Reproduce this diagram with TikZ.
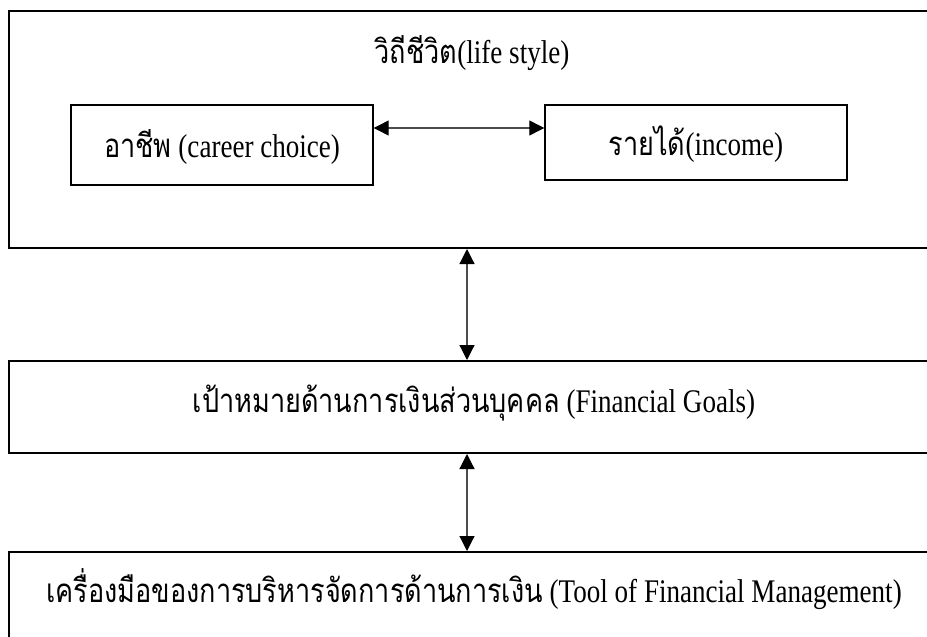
\documentclass[tikz,border=0pt]{standalone}
\usepackage{graphicx}
\usepackage{fontspec}
\setmainfont{Liberation Serif}
\newfontfamily\thaifont[Script=Thai]{Loma}
\usetikzlibrary{arrows.meta}
\newcommand{\thx}[1]{{\thaifont #1}}
\newcommand{\lab}[1]{\scalebox{0.82}[1]{#1}}
\tikzset{
  bigbox/.style={draw, line width=2pt, rectangle, inner sep=0pt},
  smallbox/.style={draw, line width=1.4pt, rectangle, inner sep=0pt},
  lbl/.style={anchor=base, inner sep=0pt, font=\fontsize{33}{40}\selectfont},
  link/.style={line width=1.2pt, draw=black!70,
    {Triangle[length=15pt,width=15pt,color=black]}-{Triangle[length=15pt,width=15pt,color=black]}}
}
\begin{document}
\begin{tikzpicture}[x=1pt,y=-1pt]
\useasboundingbox (0,0) rectangle (927,637);
\clip (0,0) rectangle (927,637);
\fill[white] (0,0) rectangle (927,637);
% boxes
\node[bigbox, minimum width=930pt, minimum height=237pt] (life) at (474,129.5) {};
\node[smallbox, minimum width=302pt, minimum height=80pt] (career) at (222,145) {};
\node[smallbox, minimum width=302pt, minimum height=75pt] (income) at (696,142.5) {};
\node[bigbox, minimum width=930pt, minimum height=92pt] (goals) at (474,407) {};
\node[bigbox, minimum width=930pt, minimum height=148pt] (tool) at (474,626) {};
% texts
\node[lbl] (tlife) at (472,63) {\lab{\thx{วิถีชีวิต}(life style)}};
\node[lbl] (tcareer) at (222,157) {\lab{\thx{อาชีพ} (career choice)}};
\node[lbl] (tincome) at (696,155) {\lab{\thx{รายได้}(income)}};
\node[lbl] (tgoals) at (474,412) {\lab{\thx{เป้าหมายด้านการเงินส่วนบุคคล} (Financial Goals)}};
\node[lbl] (ttool) at (474,602) {\lab{\thx{เครื่องมือของการบริหารจัดการด้านการเงิน} (Tool of Financial Management)}};
% connectors
\draw[link] ([yshift=17pt]career.east) -- ([yshift=14.5pt]income.west);
\draw[link] ([xshift=-7pt]life.south) -- ([xshift=-7pt]goals.north);
\draw[link] ([xshift=-7pt]goals.south) -- ([xshift=-7pt]tool.north);
\end{tikzpicture}
\end{document}
